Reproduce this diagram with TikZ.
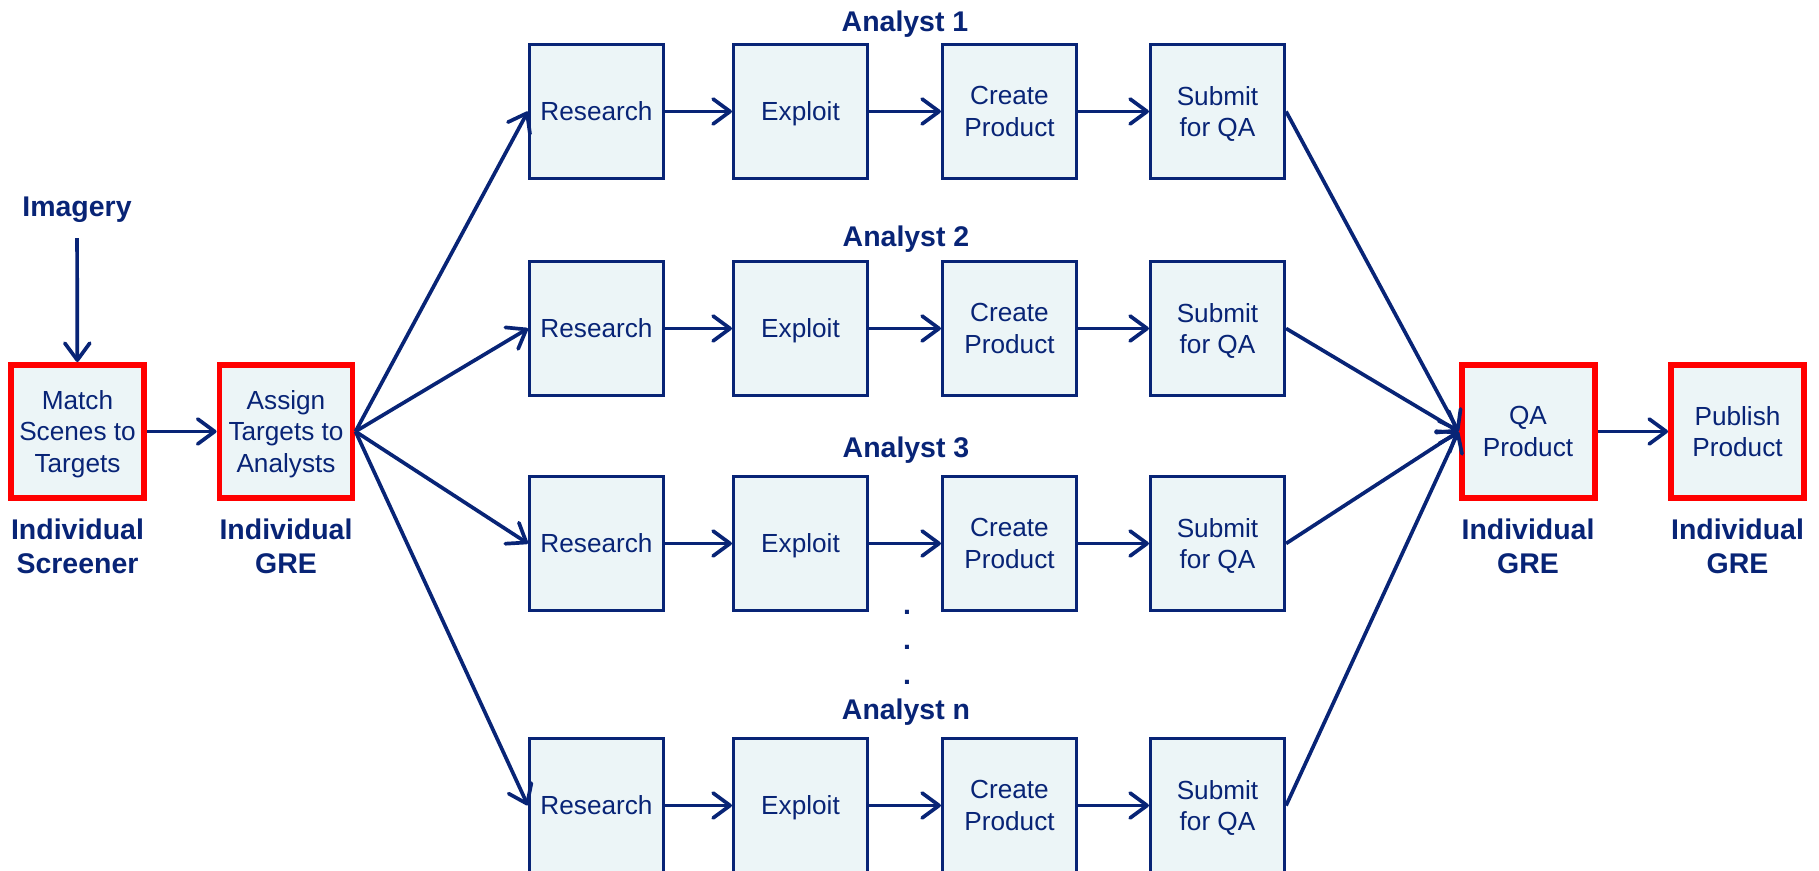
\documentclass[tikz,border=0pt]{standalone}
\usepackage{fontspec}
\setmainfont{Liberation Sans}
\usetikzlibrary{arrows.meta,positioning}
\definecolor{navy}{RGB}{8,36,118}
\definecolor{boxfill}{RGB}{236,245,247}
\definecolor{grered}{RGB}{255,0,0}

\begin{document}
\begin{tikzpicture}[
	task/.style={draw=navy, line width=1.8pt, fill=boxfill, minimum size=2.68cm, align=center, text=navy, text depth=0pt, font=\fontsize{14.9}{18.1}\selectfont},
	gre/.style={task, draw=grered, line width=3.4pt, minimum size=2.66cm},
	lbl/.style={text=navy, align=center, inner sep=0pt, font=\fontsize{16.2}{19.3}\selectfont\bfseries},
	flow/.style={draw=navy, line width=2.1pt, -{Straight Barb[length=0.34cm,width=0.5cm,line cap=round,line join=round]}}
]
	\useasboundingbox (0,0) rectangle (36.38,17.42);

	\node[lbl, inner sep=0.3cm] (imagery) at (1.54, 13.22) {Imagery};
	\node[gre] (match) at (1.55, 8.79) {Match\\Scenes to\\Targets};
	\node[gre] (assign) at (5.72, 8.79) {Assign\\Targets to\\Analysts};
	\node[gre] (qa) at (30.56, 8.79) {QA\\Product};
	\node[gre] (publish) at (34.75, 8.79) {Publish\\Product};
	\node[lbl, below=0.36cm of match] (matchrole) {Individual\\Screener};
	\node[lbl, below=0.36cm of assign] (assignrole) {Individual\\GRE};
	\node[lbl, below=0.36cm of qa] (qarole) {Individual\\GRE};
	\node[lbl, below=0.36cm of publish] (publishrole) {Individual\\GRE};
	\draw[flow] (imagery) -- (match);
	\draw[flow] (match) -- (assign);
	\draw[flow] (qa) -- (publish);

	\node[lbl, anchor=base] (analyst1) at (18.1, 16.78) {Analyst 1};
	\node[task] (res1) at (11.93, 15.19) {Research};
	\node[task] (exp1) at (16.01, 15.19) {Exploit};
	\node[task] (cre1) at (20.19, 15.19) {Create\\Product};
	\node[task] (sub1) at (24.35, 15.19) {Submit\\for QA};
	\draw[flow] (assign.east) -- (res1.west);
	\draw[flow] (res1) -- (exp1);
	\draw[flow] (exp1) -- (cre1);
	\draw[flow] (cre1) -- (sub1);
	\draw[flow] (sub1.east) -- (qa.west);

	\node[lbl, anchor=base] (analyst2) at (18.12, 12.48) {Analyst 2};
	\node[task] (res2) at (11.93, 10.85) {Research};
	\node[task] (exp2) at (16.01, 10.85) {Exploit};
	\node[task] (cre2) at (20.19, 10.85) {Create\\Product};
	\node[task] (sub2) at (24.35, 10.85) {Submit\\for QA};
	\draw[flow] (assign.east) -- (res2.west);
	\draw[flow] (res2) -- (exp2);
	\draw[flow] (exp2) -- (cre2);
	\draw[flow] (cre2) -- (sub2);
	\draw[flow] (sub2.east) -- (qa.west);

	\node[lbl, anchor=base] (analyst3) at (18.12, 8.26) {Analyst 3};
	\node[task] (res3) at (11.93, 6.55) {Research};
	\node[task] (exp3) at (16.01, 6.55) {Exploit};
	\node[task] (cre3) at (20.19, 6.55) {Create\\Product};
	\node[task] (sub3) at (24.35, 6.55) {Submit\\for QA};
	\draw[flow] (assign.east) -- (res3.west);
	\draw[flow] (res3) -- (exp3);
	\draw[flow] (exp3) -- (cre3);
	\draw[flow] (cre3) -- (sub3);
	\draw[flow] (sub3.east) -- (qa.west);

	\node[lbl, font=\fontsize{16.2}{20.1}\selectfont\bfseries] (dots) at (18.14, 4.47) {.\\.\\.};

	\node[lbl, anchor=base] (analystn) at (18.12, 3.02) {Analyst n};
	\node[task] (resn) at (11.93, 1.31) {Research};
	\node[task] (expn) at (16.01, 1.31) {Exploit};
	\node[task] (cren) at (20.19, 1.31) {Create\\Product};
	\node[task] (subn) at (24.35, 1.31) {Submit\\for QA};
	\draw[flow] (assign.east) -- (resn.west);
	\draw[flow] (resn) -- (expn);
	\draw[flow] (expn) -- (cren);
	\draw[flow] (cren) -- (subn);
	\draw[flow] (subn.east) -- (qa.west);
\end{tikzpicture}
\end{document}
